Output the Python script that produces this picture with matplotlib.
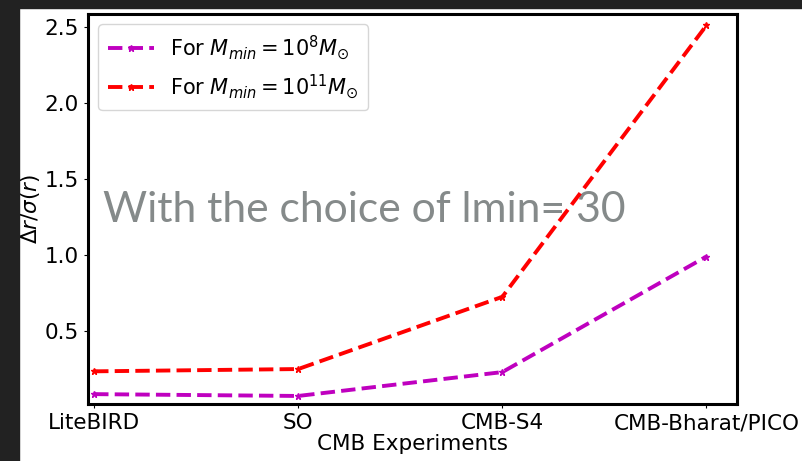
import matplotlib
matplotlib.use("Agg")
import matplotlib.pyplot as plt
from matplotlib.patches import Rectangle

experiments = ["LiteBIRD", "SO", "CMB-S4", "CMB-Bharat/PICO"]
ratio_m8 = [0.085, 0.073, 0.23, 0.99]
ratio_m11 = [0.235, 0.25, 0.725, 2.51]
yticks = [0.5, 1.0, 1.5, 2.0, 2.5]

fig = plt.figure(figsize=(8.02, 4.61), dpi=100)
ax = fig.add_axes([0.1097, 0.1236, 0.8093, 0.846])

x = list(range(len(experiments)))
ax.plot(x, ratio_m8, color="m", ls="--", lw=2.8, marker="*", ms=5,
        label=r"For $M_{min}=10^{8}M_{\odot}$", zorder=3)
ax.plot(x, ratio_m11, color="r", ls="--", lw=2.8, marker="*", ms=5,
        label=r"For $M_{min}=10^{11}M_{\odot}$", zorder=3)

ax.set_xlim(-0.03, 3.15)
ax.set_ylim(0.02, 2.585)
ax.set_xticks(x)
ax.set_xticklabels(experiments)
ax.set_yticks(yticks)
ax.tick_params(labelsize=15.5, length=3)
for s in ax.spines.values():
    s.set_linewidth(2.2)

ax.set_xlabel("CMB Experiments", fontsize=15.5, labelpad=1)
ax.set_ylabel(r"$\Delta r/\sigma(r)$", fontsize=15.5, labelpad=2)
ax.legend(loc="upper left", fontsize=15, handlelength=2.2, borderpad=0.45)

ax.text(0.045, 1.22, "With the choice of lmin= 30", fontsize=30.7, family="Lato",
        color="#858a8a", zorder=1, va="baseline")

# dark frame on the top and left edges of the screenshot
fig.patches.append(Rectangle((0, 0), 19 / 802, 1, transform=fig.transFigure,
                             color="#222222", zorder=10))
fig.patches.append(Rectangle((0, 1 - 8 / 461), 1, 8 / 461, transform=fig.transFigure,
                             color="#222222", zorder=10))

fig.savefig("out.png", dpi=100)
